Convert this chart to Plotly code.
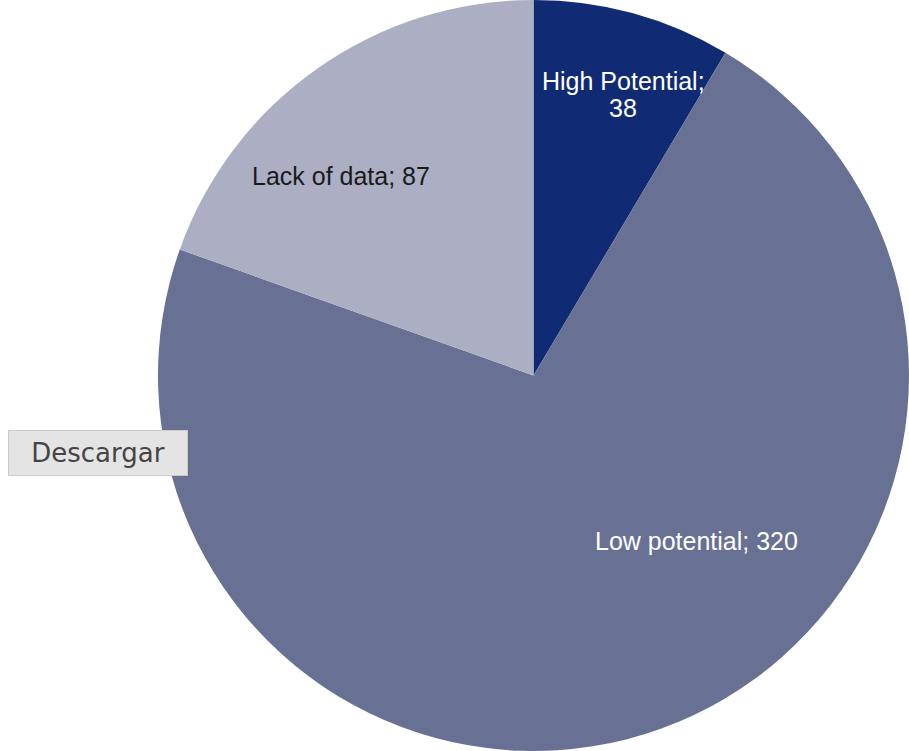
import plotly.graph_objects as go

labels = ["High Potential", "Low potential", "Lack of data"]
values = [38, 320, 87]

colors = ["#102b73", "#687094", "#acafc3"]
text_colors = ["#ffffff", "#ffffff", "#1a1a1a"]

W, H = 909, 751

# label text lines and their centre positions in page pixels (x, y from top)
label_lines = [
    [(f"{labels[0]};", 623, 81), (f"{values[0]}", 623, 108)],
    [(f"{labels[1]}; {values[1]}", 696, 541)],
    [(f"{labels[2]}; {values[2]}", 341, 176)],
]

fig = go.Figure(go.Pie(
    labels=labels,
    values=values,
    textinfo="none",
    marker=dict(colors=colors, line=dict(width=0)),
    sort=False,
    direction="clockwise",
    rotation=0,
    domain=dict(x=[158 / W, 1.0], y=[0, 1]),
    showlegend=False,
    hoverinfo="label+value",
))

for lines, col in zip(label_lines, text_colors):
    for txt, px, py in lines:
        fig.add_annotation(
            text=txt,
            xref="paper", yref="paper",
            x=px / W, y=1 - py / H,
            xanchor="center", yanchor="middle",
            showarrow=False,
            font=dict(family="Liberation Sans, Arial, sans-serif", size=25, color=col),
        )

fig.add_annotation(
    text="Descargar",
    xref="paper", yref="paper",
    x=8 / W, y=1 - 430 / H,
    xanchor="left", yanchor="top",
    showarrow=False,
    width=172, height=38,
    align="center", valign="middle",
    bgcolor="#e4e4e4",
    bordercolor="#cbcbcb",
    borderwidth=1,
    borderpad=3,
    font=dict(family="DejaVu Sans, Verdana, sans-serif", size=26, color="#444444"),
)

fig.update_layout(
    width=W, height=H,
    margin=dict(l=0, r=0, t=0, b=0),
    paper_bgcolor="#ffffff",
    plot_bgcolor="#ffffff",
)

fig.write_html("out.html", config={"displayModeBar": False})
